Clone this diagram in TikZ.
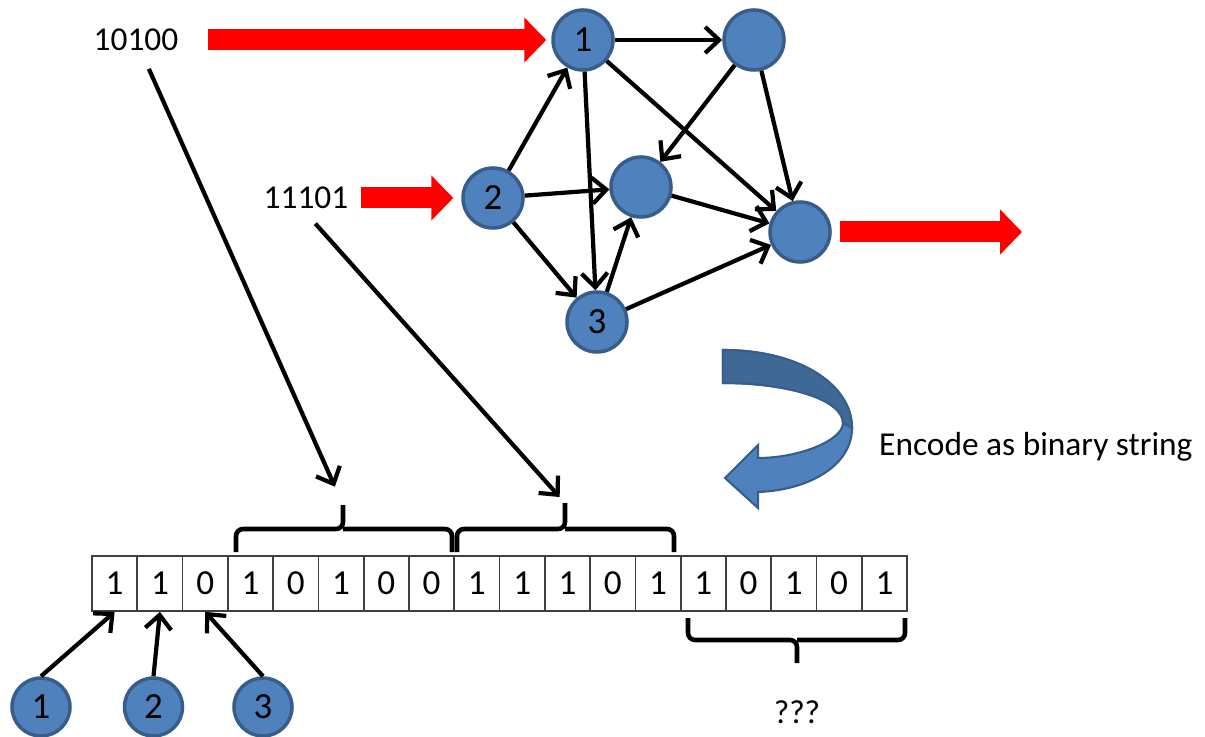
\documentclass[tikz,border=0pt]{standalone}
\usepackage{fontspec}
\setmainfont{Carlito}
\usetikzlibrary{arrows.meta}
\definecolor{nodeblue}{HTML}{4F81BD}
\definecolor{nodeline}{HTML}{385D8A}
\definecolor{ribbondark}{HTML}{3F6897}
\tikzset{
	vertex/.style={circle, draw=nodeline, line width=1pt, fill=nodeblue, minimum size=0.6cm, inner sep=0pt, font=\fontsize{10.5}{12}\selectfont},
	edge/.style={line width=1.2pt, -{Straight Barb[length=1.4mm,width=2.6mm]}},
	fatarrow/.style={draw=red, line width=0.21cm, -{Triangle[length=0.22cm,width=0.44cm]}},
	bitcell/.style={draw=black!75, line width=0.5pt, minimum width=0.4528cm, minimum height=0.55cm, inner sep=0pt, font=\fontsize{10}{12}\selectfont},
	txt/.style={inner sep=1pt, font=\fontsize{9.5}{11}\selectfont},
	bracket/.style={line width=1.3pt, rounded corners=0.07cm},
}

\begin{document}
\begin{tikzpicture}
		%%%%% START %%%%%
		\useasboundingbox (0, 0) rectangle (12.05, 7.36);
		
		% network
		\node[vertex] (n1) at (5.83, 6.96) {1};
		\node[vertex] (ntop) at (7.54, 6.96) {};
		\node[vertex] (n2) at (4.93, 5.38) {2};
		\node[vertex] (nmid) at (6.41, 5.49) {};
		\node[vertex] (nout) at (8.00, 5.04) {};
		\node[vertex] (n3) at (5.97, 4.14) {3};
		
		\draw[edge] (n1) -- (ntop);
		\draw[edge] (n1) -- (nout);
		\draw[edge] (n1) -- (n3);
		\draw[edge] (ntop) -- (nmid);
		\draw[edge] (ntop) -- (nout);
		\draw[edge] (n2) -- (n1);
		\draw[edge] (n2) -- (nmid);
		\draw[edge] (n2) -- (n3);
		\draw[edge] (nmid) -- (nout);
		\draw[edge] (n3) -- (nmid);
		\draw[edge] (n3) -- (nout);
		
		% inputs and output
		\node[txt] (w1) at (1.36, 6.96) {10100};
		\node[txt] (w2) at (3.06, 5.38) {11101};
		\coordinate (out) at (10.22, 5.04);
		\draw[fatarrow, shorten <=0.25cm, shorten >=0.05cm] (w1) -- (n1);
		\draw[fatarrow, shorten <=0.08cm, shorten >=0.08cm] (w2) -- (n2);
		\draw[fatarrow, shorten <=0.08cm] (nout) -- (out);
		
		% encoding ribbon
		\draw[nodeline, line width=0.6pt, fill=nodeblue]
			(7.23, 3.86) .. controls (8.00, 3.86) and (8.52, 3.51) .. (8.52, 3.08)
			.. controls (8.52, 2.71) and (8.10, 2.46) .. (7.58, 2.44)
			-- (7.58, 2.28) -- (7.25, 2.58) -- (7.58, 2.91) -- (7.58, 2.78)
			.. controls (8.00, 2.78) and (8.43, 2.96) .. (8.43, 3.13)
			.. controls (8.43, 3.36) and (7.90, 3.53) .. (7.23, 3.53) -- cycle;
		\draw[nodeline, line width=0.6pt, fill=ribbondark]
			(7.23, 3.86) .. controls (8.00, 3.86) and (8.52, 3.51) .. (8.52, 3.08)
			-- (8.43, 3.13)
			.. controls (8.43, 3.36) and (7.90, 3.53) .. (7.23, 3.53) -- cycle;
		\node[txt, anchor=west] (enc) at (8.75, 2.89) {Encode as binary string};
		
		% bit string
		\foreach \b [count=\i] in {1,1,0,1,0,1,0,0,1,1,1,0,1,1,0,1,0,1}
			\node[bitcell] (c\i) at ({0.92+0.4528*(\i-0.5)}, 1.525) {\b};
		
		\coordinate (top1) at (3.43, 2.31);
		\coordinate (top2) at (5.65, 2.33);
		\draw[bracket] (2.36, 1.84) |- (3.43, 2.07) -- (top1);
		\draw[bracket] (4.52, 1.84) |- (3.43, 2.07);
		\draw[bracket] (4.57, 1.84) |- (5.65, 2.07) -- (top2);
		\draw[bracket] (6.74, 1.84) |- (5.65, 2.07);
		\draw[bracket] (6.88, 1.18) |- (7.97, 0.96) -- (7.97, 0.73);
		\draw[bracket] (9.05, 1.18) |- (7.97, 0.96);
		\node[txt] (qq) at (7.97, 0.24) {???};
		
		\draw[edge, shorten <=0.15cm, shorten >=0.2cm] (w1) -- (top1);
		\draw[edge, shorten <=0.14cm, shorten >=0.08cm] (w2.south) -- (top2);
		
		% one bit per input node
		\node[vertex, minimum size=0.58cm] (b1) at (0.41, 0.29) {1};
		\node[vertex, minimum size=0.58cm] (b2) at (1.535, 0.29) {2};
		\node[vertex, minimum size=0.58cm] (b3) at (2.63, 0.29) {3};
		\draw[edge] (b1.north) -- (c1.south);
		\draw[edge] (b2.north) -- (c2.south);
		\draw[edge] (b3.north) -- (c3.south);
		%%%%% END %%%%%
\end{tikzpicture}
\end{document}
